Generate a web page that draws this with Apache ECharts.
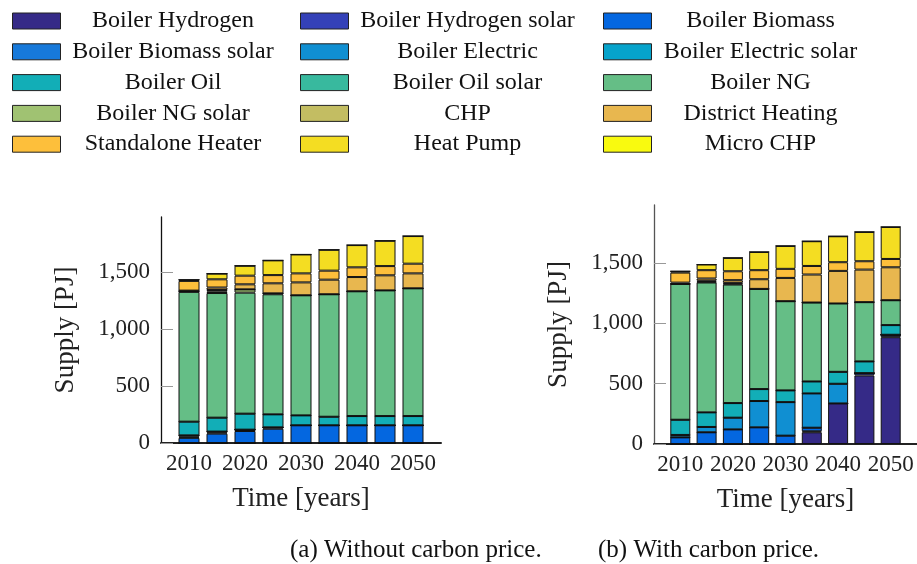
<!DOCTYPE html>
<html><head><meta charset="utf-8">
<script src="https://cdn.jsdelivr.net/npm/echarts@6/dist/echarts.min.js"></script>
<style>html,body{margin:0;padding:0;background:#fff}#c{width:917px;height:564px}</style>
</head><body><div id="c"></div>
<script>
const years = ['2010', '2015', '2020', '2025', '2030', '2035', '2040', '2045', '2050'];
const xCategories = ['2005', '2010', '2015', '2020', '2025', '2030', '2035', '2040', '2045', '2050', '2055'];
const yearTicks = ['2010', '2020', '2030', '2040', '2050'];
const supplyTicks = [0, 500, 1000, 1500];
const seriesNames = ['Boiler Hydrogen', 'Boiler Hydrogen solar', 'Boiler Biomass', 'Boiler Biomass solar',
  'Boiler Electric', 'Boiler Electric solar', 'Boiler Oil', 'Boiler Oil solar', 'Boiler NG',
  'Boiler NG solar', 'CHP', 'District Heating', 'Standalone Heater', 'Heat Pump', 'Micro CHP'];
const seriesColors = ['#352A87', '#3441B8', '#0467E0', '#1779DA', '#108FD2', '#06A3CB', '#12AEB7', '#38B99E',
  '#65BE86', '#A0C272', '#C3BD62', '#E8B74F', '#FDBF3B', '#F4DD22', '#F9FA0F'];

// (a) Without carbon price [PJ]
const a_hydrogen      = [0, 0, 0, 0, 0, 0, 0, 0, 0];
const a_hydrogenSolar = [0, 0, 0, 0, 0, 0, 0, 0, 0];
const a_biomass       = [45, 82, 105, 125, 155, 155, 155, 155, 155];
const a_biomassSolar  = [10, 10, 12, 12, 0, 0, 0, 0, 0];
const a_electric      = [12, 8, 0, 0, 0, 0, 0, 0, 0];
const a_electricSolar = [0, 0, 0, 0, 0, 0, 0, 0, 0];
const a_oil           = [120, 122, 140, 114, 87, 75, 81, 81, 81];
const a_oilSolar      = [0, 0, 0, 0, 0, 0, 0, 0, 0];
const a_ng            = [1137, 1092, 1060, 1052, 1052, 1073, 1093, 1101, 1119];
const a_ngSolar       = [5, 12, 29, 8, 0, 0, 0, 0, 0];
const a_chp           = [3, 14, 0, 0, 0, 0, 0, 0, 0];
const a_district      = [3, 22, 44, 88, 113, 128, 125, 132, 131];
const a_standalone    = [85, 72, 76, 72, 79, 79, 85, 81, 85];
const a_heatPump      = [10, 50, 87, 129, 166, 183, 195, 222, 242];
const a_microChp      = [0, 0, 0, 0, 0, 0, 0, 0, 0];

// (b) With carbon price [PJ]
const b_hydrogen      = [0, 0, 0, 0, 0, 97, 336, 568, 885];
const b_hydrogenSolar = [0, 0, 0, 0, 0, 8, 0, 19, 20];
const b_biomass       = [55, 97, 121, 138, 69, 30, 0, 0, 0];
const b_biomassSolar  = [0, 0, 0, 0, 0, 0, 0, 0, 0];
const b_electric      = [20, 44, 97, 218, 278, 284, 163, 0, 0];
const b_electricSolar = [0, 0, 0, 0, 0, 0, 0, 0, 0];
const b_oil           = [126, 121, 121, 99, 97, 99, 99, 97, 80];
const b_oilSolar      = [0, 0, 0, 0, 0, 0, 0, 0, 0];
const b_ng            = [1125, 1076, 982, 830, 739, 654, 566, 491, 206];
const b_ngSolar       = [0, 5, 7, 0, 0, 0, 0, 0, 0];
const b_chp           = [0, 9, 7, 0, 0, 0, 0, 0, 0];
const b_district      = [11, 19, 22, 80, 193, 232, 270, 270, 273];
const b_standalone    = [83, 69, 74, 75, 75, 71, 72, 69, 69];
const b_heatPump      = [11, 47, 111, 151, 190, 205, 215, 243, 265];
const b_microChp      = [0, 0, 0, 0, 0, 0, 0, 0, 0];

const aValues = [a_hydrogen, a_hydrogenSolar, a_biomass, a_biomassSolar, a_electric, a_electricSolar, a_oil,
  a_oilSolar, a_ng, a_ngSolar, a_chp, a_district, a_standalone, a_heatPump, a_microChp];
const bValues = [b_hydrogen, b_hydrogenSolar, b_biomass, b_biomassSolar, b_electric, b_electricSolar, b_oil,
  b_oilSolar, b_ng, b_ngSolar, b_chp, b_district, b_standalone, b_heatPump, b_microChp];

const FONT = 'Liberation Serif';
const fmt = v => String(v).replace(/\B(?=(\d{3})+(?!\d))/g, ',');

function xAxisCfg(gi) {
  return {
    type: 'category', gridIndex: gi, data: xCategories, boundaryGap: false,
    name: 'Time [years]', nameLocation: 'middle', nameGap: 42,
    nameTextStyle: { fontFamily: FONT, fontSize: 27, color: '#222' },
    axisLine: { show: true, lineStyle: { color: '#222', width: 2 } },
    axisTick: { show: false },
    splitLine: { show: false },
    axisLabel: {
      interval: (idx, val) => yearTicks.indexOf(String(val)) >= 0,
      margin: 9, fontFamily: FONT, fontSize: 23, color: '#222'
    }
  };
}
function yAxisCfg(gi, lineColor) {
  return {
    type: 'value', gridIndex: gi, min: 0, max: 1980,
    name: 'Supply [PJ]', nameLocation: 'middle', nameGap: 82,
    nameTextStyle: { fontFamily: FONT, fontSize: 27, color: '#222' },
    axisLine: { show: true, lineStyle: { color: lineColor, width: 1.3 } },
    axisTick: { show: true, inside: true, length: 12, customValues: supplyTicks, lineStyle: { color: '#999', width: 1 } },
    splitLine: { show: false },
    axisLabel: { customValues: supplyTicks, margin: 11, formatter: fmt, fontFamily: FONT, fontSize: 23, color: '#222' }
  };
}

const series = [];
function addSeries(values, gi, stack, bw) {
  seriesNames.forEach((name, i) => {
    series.push({
      name: name, type: 'bar', stack: stack, xAxisIndex: gi, yAxisIndex: gi,
      barWidth: bw,
      itemStyle: { color: seriesColors[i], borderColor: '#111', borderWidth: 1 },
      emphasis: { disabled: true },
      data: years.map((y, k) => [y, values[i][k]])
    });
  });
}
addSeries(aValues, 0, 'a', 21);
addSeries(bValues, 1, 'b', 20);

const legendCols = [
  { names: [0, 3, 6, 9, 12], left: 12, w: 215 },
  { names: [1, 4, 7, 10, 13], left: 300, w: 228 },
  { names: [2, 5, 8, 11, 14], left: 603, w: 208 }
];
const legends = legendCols.map(c => ({
  orient: 'vertical', left: c.left, top: 9, padding: 0,
  itemWidth: 48, itemHeight: 16, itemGap: 6.8, icon: 'rect',
  selectedMode: false,
  itemStyle: { borderColor: '#222', borderWidth: 1 },
  data: c.names.map(i => seriesNames[i]),
  formatter: n => '{t|' + n + '}',
  textStyle: {
    rich: { t: { width: c.w, align: 'center', fontFamily: FONT, fontSize: 24, lineHeight: 24, color: '#111' } }
  }
}));

const chart = echarts.init(document.getElementById('c'), null, { renderer: 'canvas' });
chart.setOption({
  backgroundColor: '#fff',
  animation: false,
  legend: legends,
  title: [
    { text: '(a) Without carbon price.', left: 290, top: 538, padding: 0,
      textStyle: { fontFamily: FONT, fontSize: 25, fontWeight: 'normal', color: '#111' } },
    { text: '(b) With carbon price.', left: 598, top: 538, padding: 0,
      textStyle: { fontFamily: FONT, fontSize: 25, fontWeight: 'normal', color: '#111' } }
  ],
  grid: [
    { left: 161, top: 217, width: 280, height: 226, containLabel: false },
    { left: 654, top: 205, width: 265, height: 239, containLabel: false }
  ],
  xAxis: [xAxisCfg(0), xAxisCfg(1)],
  yAxis: [yAxisCfg(0, '#111'), yAxisCfg(1, '#555')],
  series: series
});
</script>
</body></html>
